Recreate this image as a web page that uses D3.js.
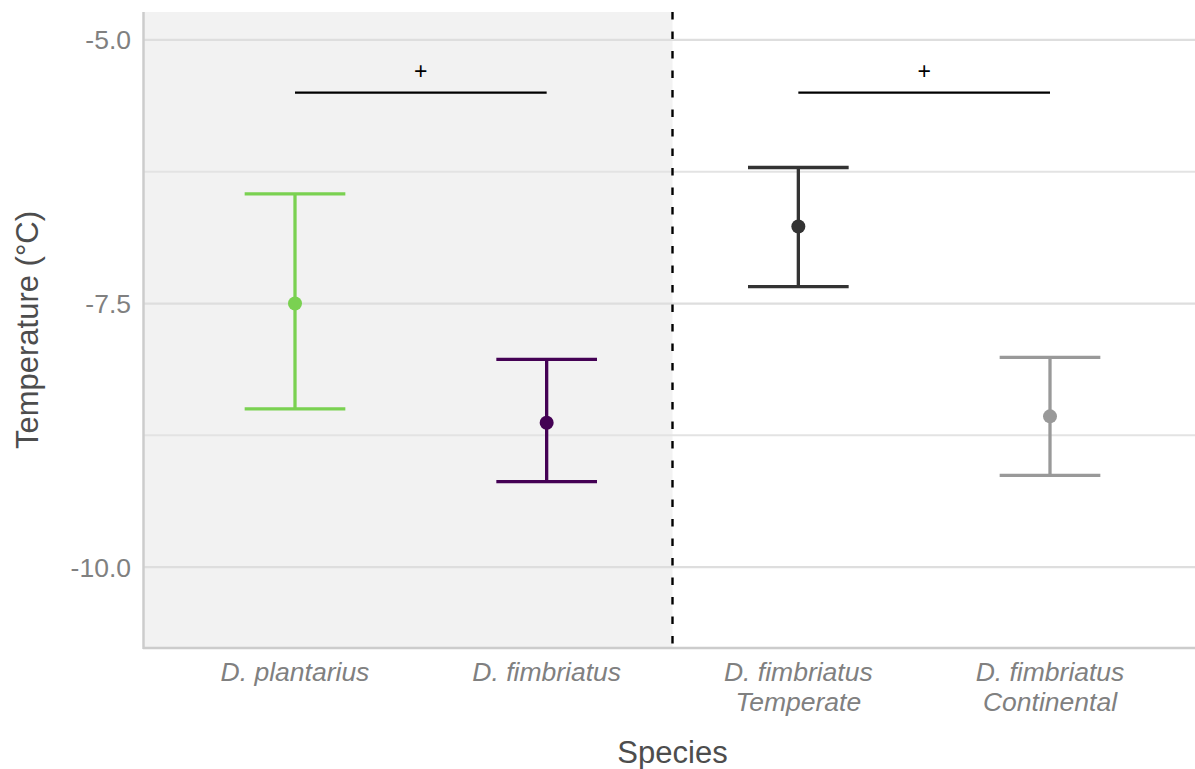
<!DOCTYPE html>
<html><head><meta charset="utf-8">
<script src="https://cdn.jsdelivr.net/npm/d3@7"></script>
<style>body{margin:0;background:#fff;} svg{display:block;}</style>
</head><body>
<script>
const categories = ["D. plantarius", "D. fimbriatus", "D. fimbriatus|Temperate", "D. fimbriatus|Continental"];
const means = [-7.50, -8.63, -6.77, -8.57];
const upper = [-6.46, -8.03, -6.21, -8.01];
const lower = [-8.50, -9.19, -7.34, -9.13];
const colors = ["#7ad151", "#440154", "#333333", "#999999"];
const yTicks = [-5.0, -7.5, -10.0];
const yMinor = [-6.25, -8.75];
const brackets = [{from: 0, to: 1, label: "+", y: -5.5}, {from: 2, to: 3, label: "+", y: -5.5}];

const W = 1195, H = 769;
const L = 144, R = 1201, T = 12, B = 648;
const FONT = "'Liberation Sans', Arial, Helvetica, sans-serif";
const svg = d3.select("body").append("svg").attr("width", W).attr("height", H);

const x = d3.scalePoint().domain(categories).range([L, R]).padding(0.6);
const y = d3.scaleLinear().domain([-10.767, -4.735]).range([B, T]);
const step = x.step();

// shaded left region
const divX = (x(categories[1]) + x(categories[2])) / 2;
svg.append("rect").attr("x", L).attr("y", T).attr("width", divX - L).attr("height", B - T).attr("fill", "#f2f2f2");

// gridlines
svg.selectAll(".gmin").data(yMinor).enter().append("line")
  .attr("x1", L).attr("x2", W).attr("y1", d => y(d)).attr("y2", d => y(d))
  .attr("stroke", "#e3e3e3").attr("stroke-width", 2);
svg.selectAll(".gmaj").data(yTicks).enter().append("line")
  .attr("x1", L).attr("x2", W).attr("y1", d => y(d)).attr("y2", d => y(d))
  .attr("stroke", "#dedede").attr("stroke-width", 2.2);

// axis lines
svg.append("line").attr("x1", L - 0.5).attr("x2", L - 0.5).attr("y1", T).attr("y2", B + 1).attr("stroke", "#cccccc").attr("stroke-width", 2.5);
svg.append("line").attr("x1", L - 1).attr("x2", W).attr("y1", B).attr("y2", B).attr("stroke", "#cccccc").attr("stroke-width", 2.5);

// dashed divider
svg.append("line").attr("x1", divX).attr("x2", divX).attr("y1", T).attr("y2", B)
  .attr("stroke", "#000").attr("stroke-width", 2.4).attr("stroke-dasharray", "7.5,12");

// y tick labels
svg.selectAll(".yt").data(yTicks).enter().append("text")
  .attr("x", L - 13).attr("y", d => y(d)).attr("dy", "0.36em").attr("text-anchor", "end")
  .attr("font-family", FONT).attr("font-size", 26.5).attr("fill", "#808080")
  .text(d => d.toFixed(1));

// x tick labels
categories.forEach(c => {
  const parts = c.split("|");
  const t = svg.append("text").attr("text-anchor", "middle")
    .attr("font-family", FONT).attr("font-size", 26.5)
    .attr("font-style", "italic").attr("fill", "#808080");
  parts.forEach((p, i) => t.append("tspan").attr("x", x(c)).attr("y", 681 + i * 30).text(p));
});

// axis titles
svg.append("text").attr("x", divX).attr("y", 763).attr("text-anchor", "middle")
  .attr("font-family", FONT).attr("font-size", 31).attr("fill", "#4d4d4d").text("Species");
svg.append("text").attr("transform", `translate(38,${(T + B) / 2}) rotate(-90)`).attr("text-anchor", "middle")
  .attr("font-family", FONT).attr("font-size", 31).attr("fill", "#4d4d4d").text("Temperature (°C)");

// error bars
const capW = step * 0.4;
categories.forEach((c, i) => {
  const g = svg.append("g").attr("stroke", colors[i]).attr("stroke-width", 3.3);
  g.append("line").attr("x1", x(c)).attr("x2", x(c)).attr("y1", y(upper[i])).attr("y2", y(lower[i]));
  g.append("line").attr("x1", x(c) - capW / 2).attr("x2", x(c) + capW / 2).attr("y1", y(upper[i])).attr("y2", y(upper[i]));
  g.append("line").attr("x1", x(c) - capW / 2).attr("x2", x(c) + capW / 2).attr("y1", y(lower[i])).attr("y2", y(lower[i]));
  svg.append("circle").attr("cx", x(c)).attr("cy", y(means[i])).attr("r", 7).attr("fill", colors[i]);
});

// significance brackets
brackets.forEach(b => {
  const x1 = x(categories[b.from]), x2 = x(categories[b.to]);
  svg.append("line").attr("x1", x1).attr("x2", x2).attr("y1", y(b.y)).attr("y2", y(b.y)).attr("stroke", "#000").attr("stroke-width", 2.4);
  svg.append("text").attr("x", (x1 + x2) / 2).attr("y", 79).attr("text-anchor", "middle")
    .attr("font-family", FONT).attr("font-size", 23).attr("fill", "#000").text(b.label);
});
</script>
</body></html>
